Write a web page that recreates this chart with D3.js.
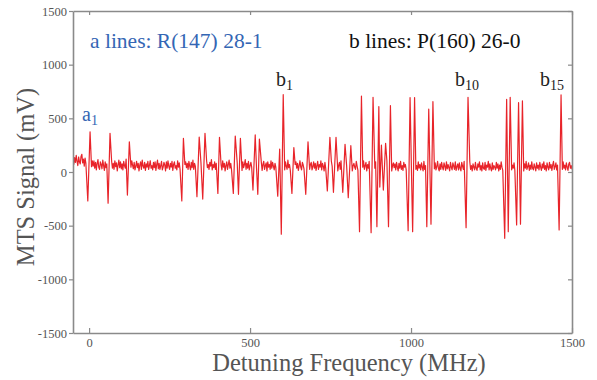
<!DOCTYPE html>
<html>
<head>
<meta charset="utf-8">
<script src="https://cdn.jsdelivr.net/npm/d3@7"></script>
<style>
  body { margin: 0; background: #fff; }
</style>
</head>
<body>
<div class="chart"></div>
<script>
// tick values
var xTicks = [0, 500, 1000, 1500];
var yTicks = [-1500, -1000, -500, 0, 500, 1000, 1500];

// baseline noise, every 2.5 MHz starting at -50 MHz
var noiseStart = -50, noiseStep = 2.5;
var noise = [
  110, 70, 135, 90, 155, 100, 60, 140, 95, 75, 145, 165, 85, 120, 55, 130, 80, 110, 150, 70, 115, 90, 80, 50, 105,
  55, 105, 35, 90, 20, 80, 115, 45, 25, 95, 70, 30, 110, 60, 15, 95, 40, 75, 120, 50, 20, 85, 55, 100, 35,
  80, 25, 105, 50, 85, 10, 65, 110, 40, 95, 30, 75, 20, 100, 60, 35, 120, 25, 80, 55, 15, 95, 45, 105, 65,
  30, 90, 20, 55, 100, 40, 80, 10, 65, 95, 25, 110, 55, 35, 90, 15, 75, 45, 100, 25, 65, 105, 35, 60, 20,
  90, 40, 95, 15, 70, 110, 30, 80, 25, 60, 100, 20, 45, 90, 65, 10, 95, 35, 105, 55, 25, 80, 45, 100, 15,
  70, 95, 35, 60, 20, 105, 45, 85, 25, 80, 55, 120, 30, 15, 70, 95, 40, 80, 25, 100, 55, 20, 90, 40, 110,
  25, 80, 55, 100, 10, 70, 35, 110, 45, 85, 20, 60, 95, 30, 80, 15, 105, 40, 70, 25, 90, 55, 115, 20, 70,
  40, 95, 25, 80, 55, 15, 100, 35, 90, 65, 20, 105, 45, 80, 10, 60, 95, 25, 70, 110, 35, 80, 20, 90, 55,
  100, 35, 70, 20, 90, 45, 105, 25, 60, 80, 15, 95, 40, 70, 115, 25, 80, 35, 100, 20, 60, 90, 45, 10, 80,
  60, 25, 95, 40, 80, 20, 110, 55, 30, 90, 15, 70, 100, 25, 60, 85, 10, 95, 45, 70, 25, 105, 35, 90, 55,
  20, 80, 45, 100, 25, 70, 10, 90, 55, 105, 30, 50, 85, 20, 95, 55, 25, 110, 40, 70, 15, 90, 35, 100, 60,
  25, 70, 95, 35, 80, 15, 60, 105, 45, 20, 90, 65, 30, 100, 10, 80, 45, 60, 110, 25, 70, 90, 20, 50, 95,
  35, 80, 15, 60, 100, 25, 70, 45, 105, 20, 80, 55, 10, 90, 35, 70, 95, 25, 50, 85, 15, 100, 55, 35, 90,
  20, 70, 45, 95, 10, 60, 90, 25, 105, 45, 75, 15, 85, 35, 100, 55, 20, 90, 45, 70, 25, 95, 10, 60, 80,
  45, 25, 100, 55, 15, 80, 35, 95, 20, 70, 45, 105, 25, 60, 90, 10, 70, 35, 100, 20, 80, 45, 60, 15, 90,
  35, 95, 20, 60, 80, 10, 70, 45, 100, 25, 60, 90, 15, 80, 35, 105, 20, 50, 75, 25, 95, 10, 60, 85, 40,
  75, 20, 90, 45, 10, 80, 35, 100, 25, 60, 15, 90, 45, 70, 20, 95, 35, 10, 80, 55, 25, 100, 45, 20, 70,
  90, 25, 60, 15, 95, 35, 70, 20, 85, 45, 10, 100, 25, 60, 80, 15, 50, 90, 20, 70, 35, 95, 15, 65, 30,
  85, 20, 50, 100, 35, 10, 75, 25, 90, 45, 20, 85, 55, 15, 95, 30, 70, 40, 10, 90, 45, 20, 85, 55, 25,
  95, 15, 50, 75, 20, 85, 35, 10, 90, 55, 25, 100, 20, 50, 75, 15, 85, 35, 95, 25, 60, 10, 75, 45, 20,
  90, 35, 15, 75, 45, 95, 20, 60, 10, 85, 35, 25, 90, 15, 65, 45, 100, 20, 75, 35, 10, 85, 25, 60, 45,
  20, 90, 35, 75, 10, 65, 25, 95, 45, 15, 85, 35, 60, 20, 90, 25, 10, 75, 45, 95, 20, 65, 35, 85, 15,
  75, 25, 95, 35, 15, 85, 45, 20, 90, 55, 10, 75, 35, 100, 25, 50, 85, 15, 65, 25, 95, 35, 20, 75, 45,
  10, 85, 35, 65, 20, 90, 45, 15, 75, 35, 95, 25, 60, 10, 85, 45, 20, 90, 35, 70, 15, 65, 100, 25, 50,
  85, 20, 65, 35, 90, 15, 75, 45, 25, 95, 35, 65, 20, 85, 45, 15, 75, 90, 35, 60, 25
];

// dispersive lines: [trough MHz, trough mV, peak MHz, peak mV]
var aLines = [
  [-4, -270, 3, 375], [59, -290, 65, 360], [119, -215, 125, 282],
  [288, -270, 293, 314], [335, -230, 342, 326], [353, -252, 360, 360],
  [400, -199, 405, 323], [448, -199, 454, 335], [464, -208, 470, 314],
  [509, -168, 516, 345], [524, -208, 529, 307], [586, -225, 592, 214],
  [630, -199, 636, 227], [673, -208, 680, 282], [740, -177, 748, 323],
  [759, -189, 767, 323], [788, -189, 795, 258], [805, -240, 813, 245],
  [903, -140, 908, 251], [914, -168, 921, 267]
];
var bLines = [
  [597, -580, 603, 720], [840, -556, 846, 708], [876, -566, 882, 696],
  [894, -510, 900, 609], [930, -510, 936, 618], [991, -547, 997, 693],
  [1005, -556, 1011, 693], [1049, -510, 1055, 587], [1062, -487, 1068, 655],
  [1171, -519, 1177, 696], [1291, -618, 1297, 677], [1302, -556, 1308, 696],
  [1328, -494, 1334, 646], [1340, -487, 1346, 662], [1460, -540, 1466, 718]
];

var margin = {top: 11, right: 25, bottom: 47, left: 73},
    width = 597 - margin.left - margin.right,
    height = 380 - margin.top - margin.bottom;

var serif = '"Liberation Serif", "Times New Roman", Times, serif';

var svg = d3.select(".chart")
  .append("svg")
    .attr("width", 597)
    .attr("height", 380)
  .append("g")
    .attr("transform", "translate(" + margin.left + "," + margin.top + ")");

var x = d3.scaleLinear().domain([-50, 1500]).range([0, width]);
var y = d3.scaleLinear().domain([-1500, 1500]).range([height, 0]);

// build the trace: noise samples outside the lines, plus the line extrema
var features = aLines.concat(bLines);
var pts = [];
noise.forEach(function(v, i) {
  var f = noiseStart + i * noiseStep;
  var inside = features.some(function(l) { return f > l[0] - 4 && f < l[2] + 4; });
  if (!inside) pts.push({f: f, v: v});
});
features.forEach(function(l) {
  pts.push({f: l[0], v: l[1]});
  pts.push({f: l[2], v: l[3]});
});
pts.sort(function(p, q) { return p.f - q.f; });

svg.append("clipPath").attr("id", "clip")
  .append("rect").attr("width", width).attr("height", height);

svg.append("path")
  .datum(pts)
  .attr("clip-path", "url(#clip)")
  .attr("fill", "none")
  .attr("stroke", "#e8242a")
  .attr("stroke-width", 1.2)
  .attr("stroke-linejoin", "round")
  .attr("d", d3.line()
    .x(function(d) { return x(d.f); })
    .y(function(d) { return y(d.v); }));

// frame axes
var fmt = function(d) { return String(d); };
var gL = svg.append("g")
  .call(d3.axisLeft(y).tickValues(yTicks).tickFormat(fmt).tickSizeInner(4).tickSizeOuter(0).tickPadding(2));
var gB = svg.append("g")
  .attr("transform", "translate(0," + height + ")")
  .call(d3.axisBottom(x).tickValues(xTicks).tickFormat(fmt).tickSizeInner(-5).tickSizeOuter(0).tickPadding(5));
var gT = svg.append("g")
  .call(d3.axisTop(x).tickValues(xTicks).tickSizeInner(-4).tickSizeOuter(0).tickFormat(""));
var gR = svg.append("g")
  .attr("transform", "translate(" + width + ",0)")
  .call(d3.axisRight(y).tickValues(yTicks).tickSizeInner(-4).tickSizeOuter(0).tickFormat(""));

[gL, gB, gT, gR].forEach(function(g) {
  g.attr("font-family", null);
  g.select(".domain").attr("stroke", "#8a8a8a").attr("stroke-width", 1.6);
  g.selectAll(".tick line").attr("stroke", "#8a8a8a").attr("stroke-width", 1.2);
  g.selectAll(".tick text")
    .attr("fill", "#555")
    .style("font-family", serif)
    .style("font-size", "12.5px");
});

// axis titles
svg.append("text")
  .attr("transform", "translate(" + (34 - margin.left) + "," + (177 - margin.top) + ") rotate(-90)")
  .attr("text-anchor", "middle")
  .attr("fill", "#555")
  .style("font-family", serif)
  .style("font-size", "24.5px")
  .text("MTS Signal (mV)");

svg.append("text")
  .attr("x", 349 - margin.left)
  .attr("y", 371 - margin.top)
  .attr("text-anchor", "middle")
  .attr("fill", "#555")
  .style("font-family", serif)
  .style("font-size", "24.5px")
  .text("Detuning Frequency (MHz)");

// annotations
function label(px, py, main, sub, color, size) {
  var t = svg.append("text")
    .attr("x", px - margin.left)
    .attr("y", py - margin.top)
    .attr("fill", color)
    .style("font-family", serif)
    .style("font-size", size + "px");
  t.append("tspan").text(main);
  if (sub) t.append("tspan").attr("dy", 4).style("font-size", "14px").text(sub);
}
label(90, 48, "a lines: R(147) 28-1", null, "#3466b4", 21.5);
label(349, 48, "b lines: P(160) 26-0", null, "#111", 21.5);
label(82, 121, "a", "1", "#3466b4", 20);
label(276, 86, "b", "1", "#222", 20);
label(455, 86, "b", "10", "#222", 20);
label(540, 86, "b", "15", "#222", 20);
</script>
</body>
</html>
